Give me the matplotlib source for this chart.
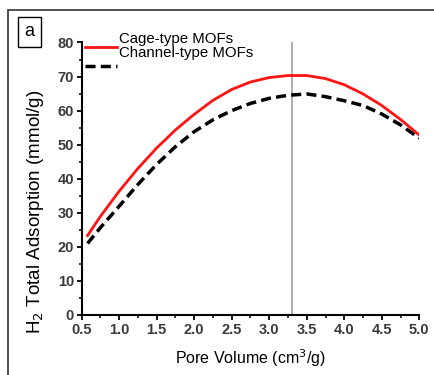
import matplotlib
matplotlib.use("Agg")
import matplotlib.pyplot as plt
from matplotlib.patches import Rectangle
from matplotlib.ticker import MultipleLocator

plt.rcParams['font.family'] = ['Liberation Sans', 'DejaVu Sans']

# values
pore_volume = [0.58, 0.75, 1.0, 1.25, 1.5, 1.75, 2.0, 2.25, 2.5, 2.75,
               3.0, 3.25, 3.5, 3.75, 4.0, 4.25, 4.5, 4.75, 5.0]
cage_mofs = [23.3, 28.9, 36.3, 43.0, 49.0, 54.3, 58.9, 63.0, 66.2, 68.4,
             69.7, 70.3, 70.3, 69.4, 67.6, 64.9, 61.5, 57.4, 52.8]
channel_mofs = [21.0, 25.6, 31.9, 38.3, 44.2, 49.4, 53.8, 57.3, 60.0, 62.1,
                63.6, 64.5, 64.9, 64.1, 62.9, 61.5, 59.0, 55.8, 51.9]
optimum_volume = 3.3
series_labels = ['Cage-type MOFs', 'Channel-type MOFs']
x_ticks = [0.5, 1.0, 1.5, 2.0, 2.5, 3.0, 3.5, 4.0, 4.5, 5.0]
y_ticks = [0, 10, 20, 30, 40, 50, 60, 70, 80]

fig = plt.figure(figsize=(4.35, 3.75), dpi=100)
ax = fig.add_axes([0.1874, 0.16, 0.7766, 0.7267])

ax.axvline(optimum_volume, color='#a8a8a8', lw=1.3, zorder=1)
red, = ax.plot(pore_volume, cage_mofs, color='#ff1414', lw=2.0, zorder=3,
               solid_joinstyle='round')
blk, = ax.plot(pore_volume, channel_mofs, color='black', lw=2.5,
               linestyle=(0, (2.9, 1.5)), zorder=2)

ax.set_xlim(0.5, 5.0)
ax.set_ylim(0, 80)
ax.set_xticks(x_ticks)
ax.set_yticks(y_ticks)
ax.set_xticklabels(['%.1f' % v for v in x_ticks])
ax.xaxis.set_minor_locator(MultipleLocator(0.25))
ax.yaxis.set_minor_locator(MultipleLocator(5))
for s in ['top', 'right']:
    ax.spines[s].set_visible(False)
for s in ['left', 'bottom']:
    ax.spines[s].set_linewidth(1.5)
ax.tick_params(which='major', direction='out', length=3.5, width=1.3,
               labelsize=10.5, labelcolor='#3a3a3a', pad=2)
ax.tick_params(which='minor', direction='out', length=2, width=1.1)
for t in ax.get_xticklabels() + ax.get_yticklabels():
    t.set_fontweight('bold')

ax.set_xlabel('Pore Volume (cm$^3$/g)', fontsize=11.5, labelpad=8)
ax.set_ylabel('H$_2$ Total Adsorption (mmol/g)', fontsize=13.5)
ax.yaxis.set_label_coords(-0.105, 0.38)

# legend handles sit below their labels in the original
leg = ax.legend([red, blk], ['', ''], loc='upper left',
                bbox_to_anchor=(-0.005, 1.025), frameon=False,
                handlelength=2.25, labelspacing=0.3, borderaxespad=0,
                handletextpad=0)
ax.text(0.112, 1.013, series_labels[0], transform=ax.transAxes,
        fontsize=10.8, va='center', ha='left')
ax.text(0.112, 0.963, series_labels[1], transform=ax.transAxes,
        fontsize=10.8, va='center', ha='left')

# panel letter and outer frame
fig.text(0.068, 0.915, 'a', fontsize=13, ha='center', va='center',
         bbox=dict(boxstyle='square,pad=0.35', fc='white', ec='black', lw=1))
fig.add_artist(Rectangle((8 / 435, -0.5), 2, 1 - 10 / 375 + 0.5,
                         transform=fig.transFigure, fill=False,
                         ec='#333333', lw=1.2, clip_on=False))

fig.savefig('out.png', dpi=100)
